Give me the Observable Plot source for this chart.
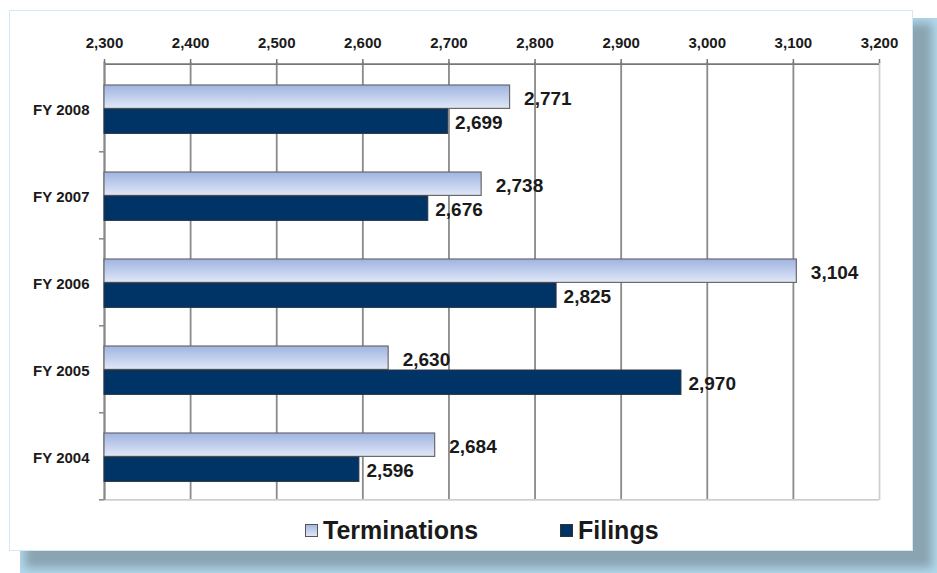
<!DOCTYPE html>
<html>
<head>
<meta charset="utf-8">
<script src="https://cdn.jsdelivr.net/npm/d3@7"></script>
<script src="https://cdn.jsdelivr.net/npm/@observablehq/plot@0.6"></script>
<style>
html, body { margin: 0; padding: 0; background: #fff; }
#page { position: relative; width: 937px; height: 573px; overflow: hidden; font-family: "Liberation Sans", Arial, sans-serif; }
#shadow { position: absolute; left: 20px; top: 18px; width: 917px; height: 555px; background: #8aa4b2; box-shadow: inset 0 0 10px 5px #b2d9ec; }
#panel { position: absolute; left: 9px; top: 10px; width: 902px; height: 539px; background: #fff; border: 1px solid #d3e9f8; }
#chart { position: absolute; left: 0; top: 0; }
.leg { position: absolute; top: 516px; display: flex; align-items: center; font-size: 25px; font-weight: bold; color: #1a1a1a; line-height: 28px; }
.sw { width: 11px; height: 11px; margin-right: 5px; border: 1px solid #555; }
</style>
</head>
<body>
<div id="page">
  <div id="shadow"></div>
  <div id="panel"></div>
  <div id="chart"></div>
  <div class="leg" style="left:305px"><div class="sw" style="background:linear-gradient(#a4b9e3,#e0e7f6)"></div><span id="lt"></span></div>
  <div class="leg" style="left:560px"><div class="sw" style="background:#003366;border-color:#333"></div><span id="lf"></span></div>
</div>
<script>
const years = ["FY 2008", "FY 2007", "FY 2006", "FY 2005", "FY 2004"];
const terminations = [2771, 2738, 3104, 2630, 2684];
const filings = [2699, 2676, 2825, 2970, 2596];
const xTicks = [2300, 2400, 2500, 2600, 2700, 2800, 2900, 3000, 3100, 3200];
const seriesNames = ["Terminations", "Filings"];

const rowsT = years.map((y, i) => ({year: y, series: seriesNames[0], value: terminations[i]}));
const rowsF = years.map((y, i) => ({year: y, series: seriesNames[1], value: filings[i]}));

const W = 937, H = 505, mT = 62, mB = 5, mL = 104, mR = 58;
const band = (H - mT - mB) / years.length;
const fmt = d3.format(",");
const font = "'Liberation Sans', Arial, sans-serif";
const x0 = xTicks[0], xEnd = xTicks[xTicks.length - 1];

const svg = Plot.plot({
  width: W, height: H,
  marginTop: mT, marginBottom: mB, marginLeft: mL, marginRight: mR,
  style: {background: "transparent", fontFamily: font, overflow: "visible"},
  x: {domain: [x0, xEnd], axis: null, label: null},
  y: {domain: years, padding: 0, axis: null, label: null},
  marks: [
    Plot.gridX(xTicks.slice(0, -1), {stroke: "#8a8a8a", strokeOpacity: 1, strokeWidth: 1.8}),
    Plot.gridX([xEnd], {stroke: "#cfcfcf", strokeOpacity: 1, strokeWidth: 1.8}),
    Plot.ruleY([years[years.length - 1]], {y: d => d, dy: band / 2, stroke: "#cfcfcf", strokeWidth: 1.8}),
    Plot.ruleY([years[0]], {y: d => d, dy: -band / 2, stroke: "#777", strokeWidth: 1.8}),
    Plot.ruleX([x0], {stroke: "#888", strokeWidth: 1.8}),
    Plot.ruleY(years, {y: d => d, dy: band / 2, x1: x0, x2: x0, insetLeft: -5, stroke: "#888", strokeWidth: 1.5}),
    Plot.axisX({anchor: "top", ticks: xTicks, tickFormat: fmt, tickSize: 4, tickPadding: 11, label: null,
      fontSize: 15, fontWeight: "bold", fill: "#1a1a1a", stroke: "#777", strokeWidth: 1.5}),
    Plot.axisY({anchor: "left", tickSize: 0, tickPadding: 15, dy: 2, label: null,
      fontSize: 15, fontWeight: "bold", fill: "#1a1a1a"}),
    Plot.barX(rowsT, {y: "year", x1: x0, x2: "value", insetTop: 21, insetBottom: band - 45,
      fill: "url(#termGrad)", stroke: "#6a6a6a", strokeWidth: 1.2}),
    Plot.barX(rowsF, {y: "year", x1: x0, x2: "value", insetTop: 45, insetBottom: band - 70,
      fill: "#003366", stroke: "#2a3340", strokeWidth: 1}),
    Plot.text(rowsT, {y: "year", x: "value", text: d => fmt(d.value), dx: 14, dy: -9,
      textAnchor: "start", fontSize: 19, fontWeight: "bold", fill: "#1a1a1a"}),
    Plot.text(rowsF, {y: "year", x: "value", text: d => fmt(d.value), dx: 7, dy: 15,
      textAnchor: "start", fontSize: 19, fontWeight: "bold", fill: "#1a1a1a"})
  ]
});

const defs = d3.select(svg).insert("defs", ":first-child");
const g = defs.append("linearGradient").attr("id", "termGrad")
  .attr("x1", 0).attr("y1", 0).attr("x2", 0).attr("y2", 1);
g.append("stop").attr("offset", "0%").attr("stop-color", "#9fb4e1");
g.append("stop").attr("offset", "100%").attr("stop-color", "#e1e8f7");

document.getElementById("chart").appendChild(svg);
document.getElementById("lt").textContent = seriesNames[0];
document.getElementById("lf").textContent = seriesNames[1];
</script>
</body>
</html>
